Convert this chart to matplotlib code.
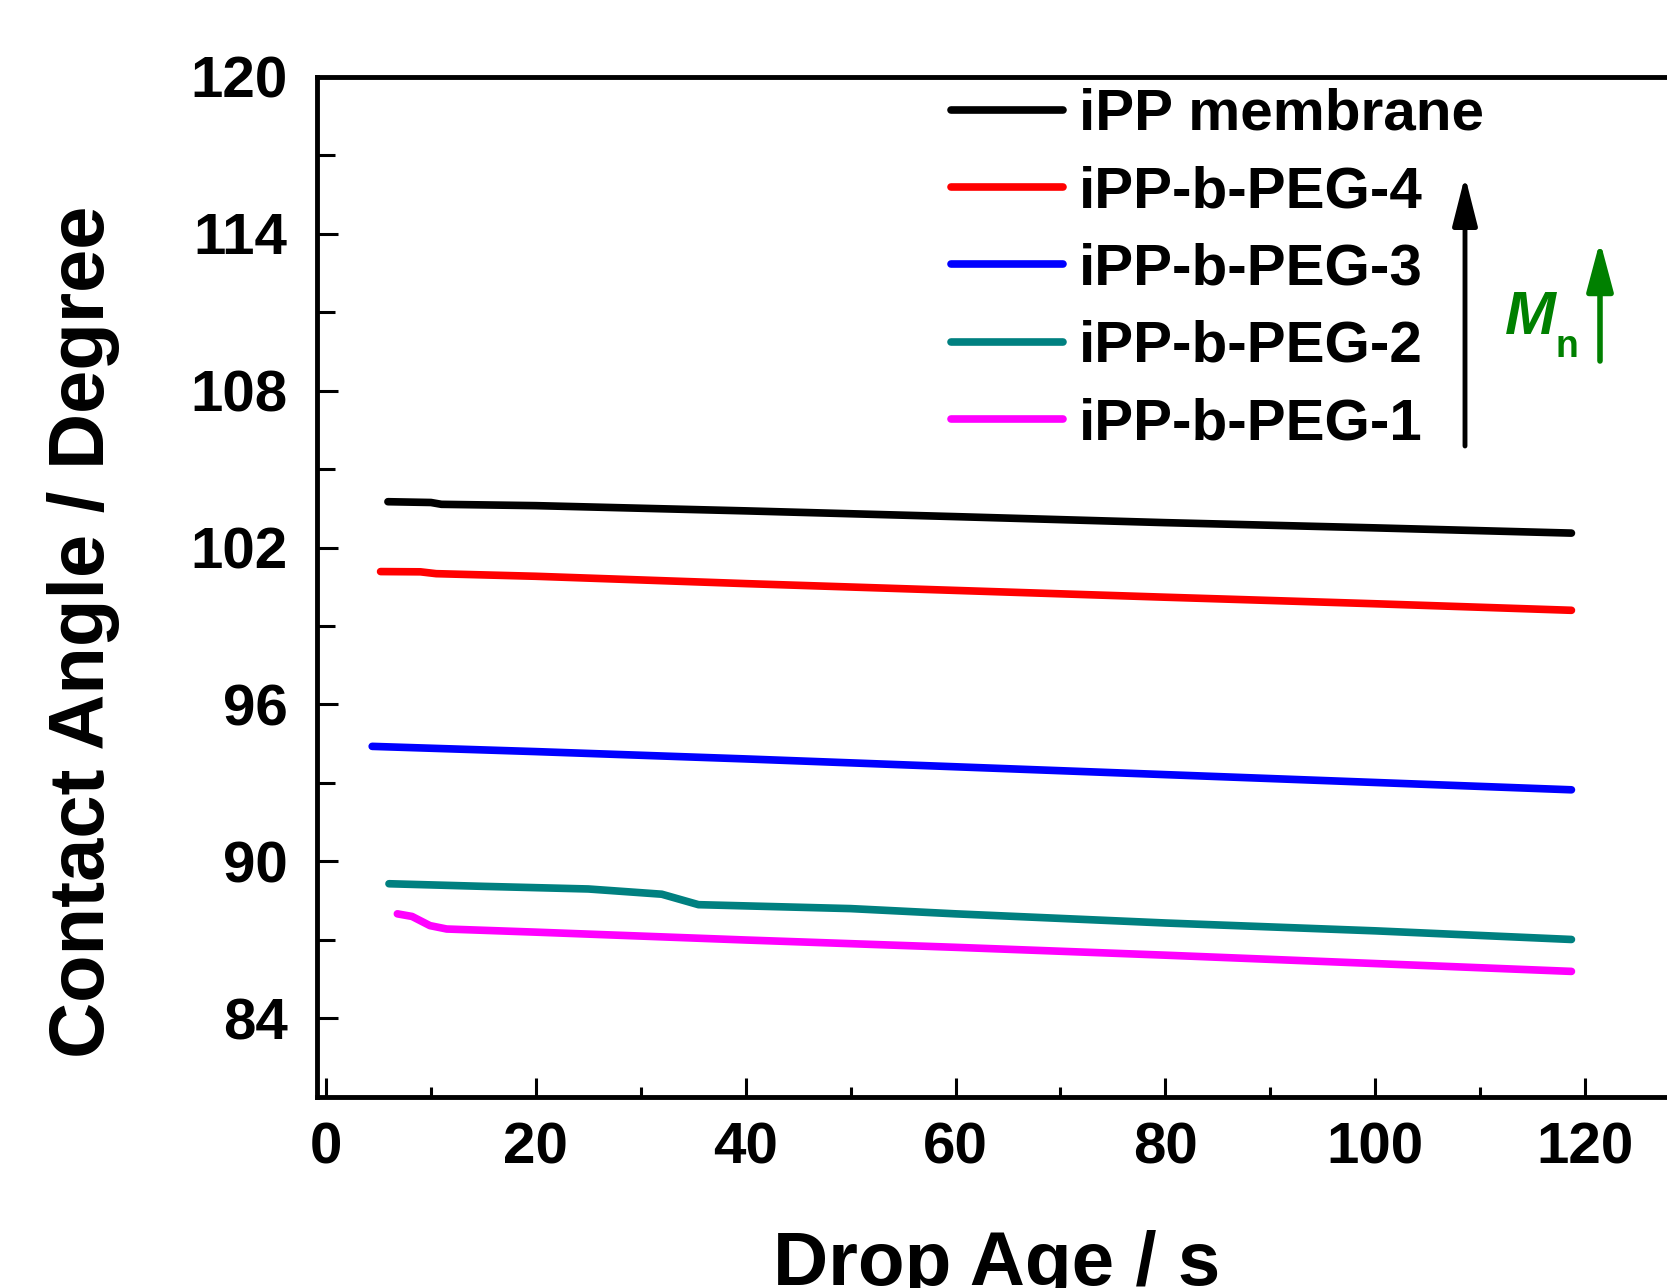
import matplotlib
matplotlib.use("Agg")
import matplotlib.pyplot as plt
from matplotlib.ticker import MultipleLocator

plt.rcParams['font.family'] = ['Liberation Sans', 'DejaVu Sans']
plt.rcParams['font.weight'] = 'bold'

# Contact angle vs drop age for each membrane
labels = ["iPP membrane", "iPP-b-PEG-4", "iPP-b-PEG-3", "iPP-b-PEG-2", "iPP-b-PEG-1"]
colors = ["#000000", "#ff0000", "#0000ff", "#008080", "#ff00ff"]

t_ipp = [5.9, 10, 11, 20, 40, 60, 80, 100, 118.7]
ca_ipp = [103.75, 103.72, 103.65, 103.6, 103.4, 103.18, 102.95, 102.75, 102.55]

t_peg4 = [5.2, 9, 10.5, 20, 40, 60, 80, 100, 118.7]
ca_peg4 = [101.08, 101.07, 101.0, 100.9, 100.62, 100.36, 100.1, 99.85, 99.6]

t_peg3 = [4.4, 20, 40, 60, 80, 100, 118.7]
ca_peg3 = [94.4, 94.2, 93.92, 93.62, 93.32, 93.02, 92.74]

t_peg2 = [6.0, 15, 25, 32, 35.5, 50, 60, 80, 100, 118.7]
ca_peg2 = [89.15, 89.05, 88.95, 88.75, 88.35, 88.2, 88.0, 87.65, 87.35, 87.02]

t_peg1 = [6.8, 8.2, 9.9, 11.5, 20, 40, 60, 80, 100, 118.7]
ca_peg1 = [88.0, 87.9, 87.55, 87.42, 87.3, 87.0, 86.72, 86.42, 86.1, 85.8]

series_t = [t_ipp, t_peg4, t_peg3, t_peg2, t_peg1]
series_ca = [ca_ipp, ca_peg4, ca_peg3, ca_peg2, ca_peg1]

W, H = 1667, 1288
fig = plt.figure(figsize=(W / 100, H / 100), dpi=100)
ax = fig.add_axes([317 / W, 191 / H, (1690 - 317) / W, (1097 - 76.5) / H])

for t, ca, lab, c in zip(series_t, series_ca, labels, colors):
    ax.plot(t, ca, color=c, lw=5.5, label=lab, solid_capstyle='round',
            solid_joinstyle='round')

ax.set_xlim(-0.86, 130)
ax.set_ylim(81, 120)
ax.xaxis.set_major_locator(MultipleLocator(20))
ax.xaxis.set_minor_locator(MultipleLocator(10))
ax.yaxis.set_major_locator(MultipleLocator(6))
ax.yaxis.set_minor_locator(MultipleLocator(3))

for s in ax.spines.values():
    s.set_linewidth(3.5)

ax.tick_params(axis='both', which='both', direction='in', width=2.2,
               top=False, right=False)
ax.tick_params(axis='x', which='major', length=14, pad=18, labelsize=42)
ax.tick_params(axis='x', which='minor', length=7)
ax.tick_params(axis='y', which='major', length=15, pad=21, labelsize=42)
ax.tick_params(axis='y', which='minor', length=13)
for lbl in ax.get_xticklabels() + ax.get_yticklabels():
    lbl.set_fontweight('bold')

fig.text(84 / W, 1 - 632 / H, "Contact Angle / Degree", rotation=90,
         ha='center', va='center', fontsize=56, fontweight='bold')
fig.text(997 / W, 3 / H, "Drop Age / s", ha='center', va='baseline',
         fontsize=55, fontweight='bold')

leg = ax.legend(loc='upper left', bbox_to_anchor=(951 / W, 1 - 88 / H),
                bbox_transform=fig.transFigure, frameon=False, fontsize=42,
                handlelength=1.92, handletextpad=0.28, labelspacing=0.4,
                borderpad=0, borderaxespad=0)
for line in leg.get_lines():
    line.set_linewidth(5.5)

# trend arrows
ax.annotate("", xy=(1465 / W, 1 - 176 / H), xytext=(1465 / W, 1 - 446 / H),
            xycoords='figure fraction', textcoords='figure fraction',
            arrowprops=dict(arrowstyle='-|>,head_length=1.5,head_width=0.38',
                            mutation_scale=20, lw=3.5, color='black',
                            shrinkA=0, shrinkB=0))
green = "#008000"
ax.annotate("", xy=(1600 / W, 1 - 241 / H), xytext=(1600 / W, 1 - 361 / H),
            xycoords='figure fraction', textcoords='figure fraction',
            arrowprops=dict(arrowstyle='-|>,head_length=1.5,head_width=0.4',
                            mutation_scale=20, lw=4, color=green,
                            shrinkA=0, shrinkB=0))
fig.text(1505 / W, 1 - 334 / H, "M", ha='left', va='baseline', fontsize=44,
         fontweight='bold', fontstyle='italic', color=green)
fig.text(1555 / W, 1 - 357 / H, "n", ha='left', va='baseline', fontsize=27,
         fontweight='bold', color=green)

fig.savefig("out.png", dpi=100)
